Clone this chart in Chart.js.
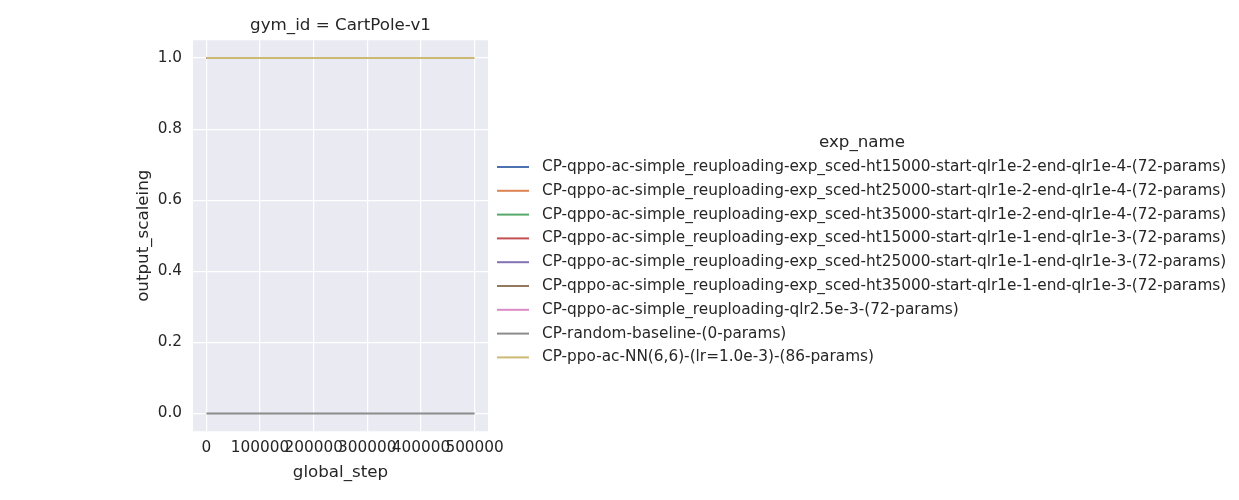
<!DOCTYPE html>
<html>
<head>
<meta charset="utf-8">
<script src="https://cdn.jsdelivr.net/npm/chart.js@4.4.1/dist/chart.umd.min.js"></script>
<style>
html,body{margin:0;padding:0;background:#ffffff;}
#wrap{width:1239px;height:500px;}
</style>
</head>
<body>
<div id="wrap"><canvas id="c" width="1239" height="500"></canvas></div>
<script>
const seriesNames = [
  "CP-qppo-ac-simple_reuploading-exp_sced-ht15000-start-qlr1e-2-end-qlr1e-4-(72-params)",
  "CP-qppo-ac-simple_reuploading-exp_sced-ht25000-start-qlr1e-2-end-qlr1e-4-(72-params)",
  "CP-qppo-ac-simple_reuploading-exp_sced-ht35000-start-qlr1e-2-end-qlr1e-4-(72-params)",
  "CP-qppo-ac-simple_reuploading-exp_sced-ht15000-start-qlr1e-1-end-qlr1e-3-(72-params)",
  "CP-qppo-ac-simple_reuploading-exp_sced-ht25000-start-qlr1e-1-end-qlr1e-3-(72-params)",
  "CP-qppo-ac-simple_reuploading-exp_sced-ht35000-start-qlr1e-1-end-qlr1e-3-(72-params)",
  "CP-qppo-ac-simple_reuploading-qlr2.5e-3-(72-params)",
  "CP-random-baseline-(0-params)",
  "CP-ppo-ac-NN(6,6)-(lr=1.0e-3)-(86-params)"
];
const seriesColors = ["#4C72B0","#DD8452","#55A868","#C44E52","#8172B3","#937860","#DA8BC3","#8C8C8C","#CCB974"];
// steps and values
const quantumSteps = [0, 50000, 100000, 150000];
const quantumValues = [1.0, 1.0, 1.0, 1.0];
const fullSteps = [0, 100000, 200000, 300000, 400000, 500000];
const randomValues = [0.0, 0.0, 0.0, 0.0, 0.0, 0.0];
const nnValues = [1.0, 1.0, 1.0, 1.0, 1.0, 1.0];
const xTicks = [0, 100000, 200000, 300000, 400000, 500000];
const yTicks = [0.0, 0.2, 0.4, 0.6, 0.8, 1.0];

const seriesSteps = [quantumSteps, quantumSteps, quantumSteps, quantumSteps, quantumSteps, quantumSteps, quantumSteps, fullSteps, fullSteps];
const seriesValues = [quantumValues, quantumValues, quantumValues, quantumValues, quantumValues, quantumValues, quantumValues, randomValues, nnValues];

const FONT = "DejaVu Sans";
const TXT = "#262626";
const TICK_SIZE = 15.3;
const LABEL_SIZE = 16.7;

const datasets = seriesNames.map((name, i) => ({
  label: name,
  data: seriesSteps[i].map((s, j) => ({x: s, y: seriesValues[i][j]})),
  borderColor: seriesColors[i],
  backgroundColor: seriesColors[i],
  borderWidth: 2,
  pointRadius: 0,
  fill: false,
  tension: 0,
  order: seriesNames.length - i
}));

const bgPlugin = {
  id: 'bg',
  beforeDraw(chart) {
    const {ctx, chartArea: a} = chart;
    ctx.save();
    ctx.fillStyle = '#EAEAF2';
    ctx.fillRect(a.left, a.top, a.right - a.left, a.bottom - a.top);
    ctx.restore();
  }
};

const legendPlugin = {
  id: 'customLegend',
  afterDraw(chart) {
    const ctx = chart.ctx;
    ctx.save();
    const a = chart.chartArea;
    ctx.fillStyle = TXT;
    ctx.font = LABEL_SIZE + "px '" + FONT + "'";
    ctx.textAlign = 'center';
    ctx.textBaseline = 'middle';
    ctx.fillText("gym_id = CartPole-v1", (a.left + a.right) / 2, 26);
    ctx.fillText("exp_name", 862, 143);
    ctx.font = TICK_SIZE + "px '" + FONT + "'";
    ctx.textAlign = 'left';
    chart.data.datasets.forEach((ds, i) => {
      const y = 167 + i * 23.8;
      ctx.strokeStyle = ds.borderColor;
      ctx.lineWidth = 2;
      ctx.beginPath();
      ctx.moveTo(497, y);
      ctx.lineTo(529, y);
      ctx.stroke();
      ctx.fillStyle = TXT;
      ctx.fillText(ds.label, 542, y);
    });
    ctx.restore();
  }
};

new Chart(document.getElementById('c'), {
  type: 'line',
  data: { datasets },
  options: {
    responsive: false,
    animation: false,
    layout: { padding: { left: 0, right: 751, top: 40.25, bottom: 0 } },
    plugins: { legend: { display: false }, title: { display: false }, tooltip: { enabled: false } },
    scales: {
      x: {
        type: 'linear',
        min: -25000,
        max: 525000,
        afterFit(scale) { scale.height = 68.75; },
        afterBuildTicks(scale) { scale.ticks = xTicks.map(v => ({value: v})); },
        ticks: {
          autoSkip: false, maxRotation: 0, minRotation: 0, padding: 8,
          color: TXT, font: { family: FONT, size: TICK_SIZE },
          callback: v => String(v)
        },
        grid: { color: '#ffffff', lineWidth: 1.2, drawTicks: false },
        border: { display: false },
        title: { display: true, text: 'global_step', color: TXT, font: { family: FONT, size: LABEL_SIZE }, padding: { top: 0, bottom: 17 } }
      },
      y: {
        type: 'linear',
        min: -0.05,
        max: 1.05,
        afterFit(scale) { scale.width = 193; },
        afterBuildTicks(scale) { scale.ticks = yTicks.map(v => ({value: v})); },
        ticks: {
          padding: 11, color: TXT, font: { family: FONT, size: TICK_SIZE },
          callback: v => Number(v).toFixed(1)
        },
        grid: { color: '#ffffff', lineWidth: 1.2, drawTicks: false },
        border: { display: false },
        title: { display: true, text: 'output_scaleing', color: TXT, font: { family: FONT, size: LABEL_SIZE }, padding: { top: 134, bottom: 0 } }
      }
    }
  },
  plugins: [bgPlugin, legendPlugin]
});
</script>
</body>
</html>
